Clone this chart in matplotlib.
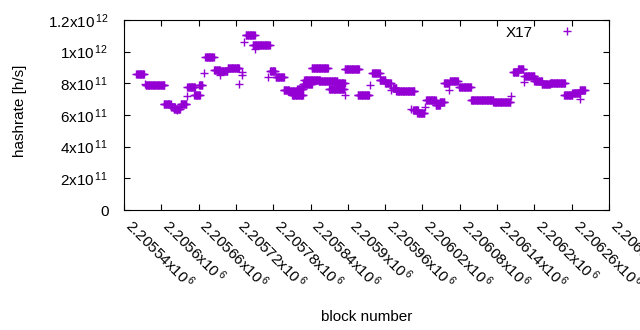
import matplotlib
matplotlib.use("Agg")
import matplotlib.pyplot as plt
import numpy as np

plt.rcParams['font.family'] = ['Liberation Sans', 'DejaVu Sans']
plt.rcParams['mathtext.default'] = 'regular'

# runs of blocks with the same estimated hashrate (value in units of 1e11 h/s)
run_start = [2205560, 2205573, 2205575, 2205604, 2205616, 2205620, 2205625, 2205631,
             2205641, 2205642, 2205653, 2205661, 2205669, 2205671, 2205685, 2205691,
             2205695, 2205707, 2205725, 2205729, 2205730, 2205733, 2205736, 2205747,
             2205751, 2205772, 2205775, 2205784, 2205797, 2205803, 2205810, 2205819,
             2205828, 2205830, 2205842, 2205853, 2205870, 2205882, 2205895, 2205895,
             2205916, 2205936, 2205939, 2205951, 2205960, 2205970, 2205972, 2205978,
             2206002, 2206005, 2206012, 2206024, 2206026, 2206041, 2206048, 2206055,
             2206063, 2206064, 2206079, 2206098, 2206134, 2206163, 2206166, 2206174,
             2206184, 2206184, 2206200, 2206212, 2206225, 2206248, 2206261, 2206273,
             2206273]
run_end = [2205572, 2205573, 2205605, 2205615, 2205622, 2205630, 2205625, 2205640,
           2205641, 2205654, 2205662, 2205666, 2205669, 2205684, 2205694, 2205706,
           2205695, 2205725, 2205725, 2205729, 2205730, 2205733, 2205750, 2205774,
           2205751, 2205772, 2205783, 2205797, 2205805, 2205820, 2205828, 2205828,
           2205842, 2205855, 2205868, 2205883, 2205894, 2205895, 2205895, 2205918,
           2205934, 2205936, 2205951, 2205960, 2205969, 2205970, 2205978, 2206007,
           2206002, 2206013, 2206023, 2206024, 2206041, 2206048, 2206055, 2206062,
           2206063, 2206077, 2206098, 2206134, 2206161, 2206163, 2206174, 2206182,
           2206184, 2206200, 2206212, 2206225, 2206249, 2206261, 2206273, 2206273,
           2206281]
run_value = [8.60, 7.98, 7.92, 6.71, 6.52, 6.40, 6.31, 6.69,
             7.21, 7.77, 7.29, 7.92, 8.67, 9.67, 8.85, 8.75,
             8.50, 8.98, 7.98, 8.70, 8.50, 10.60, 11.04, 10.42,
             10.17, 8.40, 8.75, 8.42, 7.60, 7.50, 7.27, 7.67,
             7.98, 8.23, 8.98, 8.17, 7.63, 8.04, 7.25, 8.88,
             7.29, 7.92, 8.67, 8.23, 8.02, 7.56, 7.71, 7.54,
             6.38, 6.29, 6.10, 6.52, 6.94, 6.63, 6.79, 8.04,
             7.60, 8.13, 7.79, 6.92, 6.79, 7.20, 8.71, 8.88,
             8.08, 8.46, 8.13, 7.96, 8.04, 7.25, 7.40, 7.04,
             7.60]

x_ticks = [2205540 + 60 * k for k in range(14)]
x_ticklabels = ["%gx10$^{\\,6}$" % (t / 1e6) for t in x_ticks]
y_ticks = [0, 2e11, 4e11, 6e11, 8e11, 1e12, 1.2e12]
y_ticklabels = ["0", "2x10$^{\\,11}$", "4x10$^{\\,11}$", "6x10$^{\\,11}$",
                "8x10$^{\\,11}$", "1x10$^{\\,12}$", "1.2x10$^{\\,12}$"]

blocks = []
hashrate = []
for s, e, v in zip(run_start, run_end, run_value):
    b = np.arange(s, e + 1)
    blocks.append(b)
    hashrate.append(np.full(len(b), v * 1e11))
blocks = np.concatenate(blocks)
hashrate = np.concatenate(hashrate)

fig = plt.figure(figsize=(6.4, 3.3), dpi=100)
ax = fig.add_axes([124 / 640, 1 - 210 / 330, 485 / 640, 190 / 330])

ax.plot(blocks, hashrate, '+', color='#9400d3', markersize=5.5, markeredgewidth=1.0,
        linestyle='none', label='X17')

ax.set_xlim(2205540, 2206320)
ax.set_ylim(0, 1.2e12)
ax.set_xticks(x_ticks)
ax.set_xticklabels(x_ticklabels, rotation=-45, ha='left', va='baseline',
                   rotation_mode='anchor', fontsize=11)
ax.set_yticks(y_ticks)
ax.set_yticklabels(y_ticklabels, fontsize=11)
ax.tick_params(direction='in', length=4, width=0.8, top=True, right=True)
ax.tick_params(axis='y', pad=11)
ax.tick_params(axis='x', pad=12)
for sp in ax.spines.values():
    sp.set_linewidth(0.8)

ax.set_xlabel("block number", fontsize=11)
ax.xaxis.set_label_coords(0.5, -0.525)
ax.set_ylabel("hashrate [h/s]", fontsize=11)
ax.yaxis.set_label_coords(-0.2, 0.52)

ax.legend(loc='upper right', bbox_to_anchor=(0.945, 0.97), frameon=False,
          markerfirst=False, fontsize=11, borderaxespad=0, borderpad=0,
          handlelength=2, handletextpad=1.22)

fig.savefig("out.png", dpi=100)
